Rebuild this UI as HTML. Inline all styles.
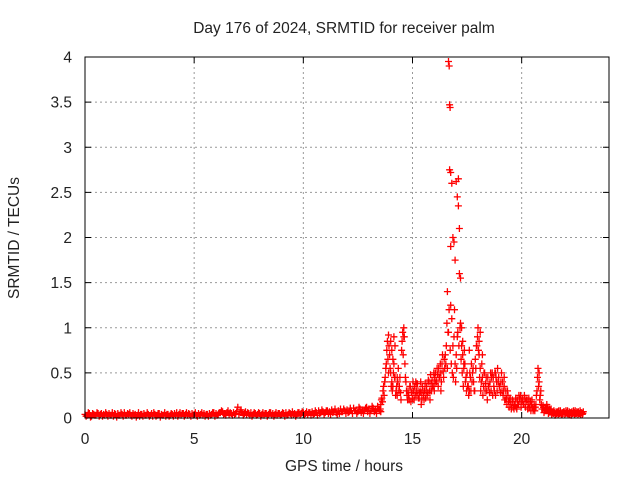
<!DOCTYPE html>
<html><head><meta charset="utf-8"><style>
body{margin:0;background:#fff;}
svg{display:block;font-family:"Liberation Sans",sans-serif;}
</style></head><body>
<svg id="chart" width="640" height="480" viewBox="0 0 640 480" xmlns="http://www.w3.org/2000/svg">
<rect width="640" height="480" fill="#fff"/>
<text x="344" y="33" font-size="15.5" text-anchor="middle" fill="#222">Day 176 of 2024, SRMTID for receiver palm</text>
<text x="344" y="471" font-size="15.5" text-anchor="middle" fill="#222">GPS time / hours</text>
<text transform="translate(19,238) rotate(-90)" font-size="15.5" text-anchor="middle" fill="#222">SRMTID / TECUs</text>
<g id="grid"></g>
<g id="marks"></g>
<rect x="85" y="57" width="524" height="361" fill="none" stroke="#000" stroke-width="1"/>
<g id="ticks"></g>
</svg>
<script>
const xTicks = [0, 5, 10, 15, 20];
const yTicks = [0, 0.5, 1, 1.5, 2, 2.5, 3, 3.5, 4];
const yTickLabels = ["0", "0.5", "1", "1.5", "2", "2.5", "3", "3.5", "4"];
const quietStart = 0, quietStep = 0.1;
const quietValues = [
.04,.03,.05,.02,.04,.03,.05,.04,.02,.03,
.04,.05,.03,.02,.04,.05,.03,.04,.06,.03,
.04,.03,.05,.04,.03,.02,.04,.05,.03,.04,
.03,.02,.04,.03,.05,.04,.03,.02,.04,.03,
.04,.05,.06,.04,.03,.05,.04,.03,.04,.05,
.04,.03,.05,.04,.03,.02,.04,.05,.04,.06,
.05,.04,.06,.07,.05,.06,.04,.05,.06,.05,
.12,.07,.06,.05,.04,.05,.06,.04,.05,.04,
.05,.04,.03,.05,.04,.06,.05,.04,.03,.05,
.04,.05,.06,.04,.05,.07,.05,.04,.06,.05,
.06,.05,.04,.06,.07,.05,.06,.08,.06,.07,
.06,.08,.07,.09,.07,.06,.08,.1,.07,.08,
.09,.07,.08,.11,.08,.07,.1,.09,.08,.12,
.1,.08,.11,.09,.13,.1 ];
const quietStart2 = 0.05;
const quietValues2 = [
.02,.06,.01,.05,.03,.06,.02,.05,.04,.06,
.02,.03,.06,.05,.01,.03,.06,.02,.03,.05,
.06,.02,.03,.01,.06,.04,.02,.03,.06,.02,
.05,.06,.02,.05,.01,.03,.06,.04,.02,.05,
.02,.03,.02,.06,.05,.02,.06,.05,.02,.03,
.06,.02,.03,.06,.05,.04,.02,.03,.06,.02,
.03,.06,.08,.04,.03,.08,.06,.03,.04,.07,
.04,.09,.03,.07,.06,.03,.02,.06,.03,.06,
.02,.06,.05,.02,.06,.03,.02,.06,.05,.03,
.06,.02,.03,.06,.03,.04,.02,.06,.03,.07,
.03,.07,.06,.03,.04,.08,.03,.05,.09,.04,
.08,.05,.04,.06,.1,.04,.05,.07,.1,.05,
.06,.11,.05,.08,.05,.12,.06,.05,.11,.07,
.05,.13,.07,.05,.1,.07 ];
const activeStart = 13.5, activeStep = 0.05;
const activeValues = [
.08,.15,.22,.3,.25,.45,.6,.85,.92,.7,.5,.4,.35,.6,.45,.3,.25,.55,.35,.28,
.75,.95,1.0,.6,.4,.25,.3,.2,.35,.28,.22,.3,.35,.4,.25,.3,.22,.3,.28,.35,
.25,.3,.22,.35,.28,.4,.3,.38,.42,.35,.45,.5,.4,.48,.55,.45,.5,.6,.52,.65,
.7,.8,1.4,3.95,2.75,1.9,1.1,.8,.9,.6,.7,.9,2.65,1.6,1.05,.8,.7,.55,.6,.45,
.5,.35,.3,.45,.6,.5,.4,.3,.55,.8,1.0,.7,.55,.4,.45,.35,.5,.38,.3,.45,
.35,.4,.3,.5,.45,.3,.25,.4,.55,.45,.35,.4,.3,.25,.35,.2,.22,.3,.18,.2,
.15,.12,.18,.1,.14,.12,.2,.15,.22,.25,.18,.2,.15,.22,.18,.2,.15,.12,.18,.15,
.12,.1,.08,.15,.3,.55,.4,.25,.15,.1,.12,.08,.1,.15,.12,.08,.06,.1,.07,.05,
.06,.04,.05,.07,.08,.05,.06,.04,.05,.07,.05,.06,.08,.05,.04,.06,.07,.05,.06,.08,.05,.06,.07,.05,.04,.06,.05 ];
const activeStart2 = 13.525;
const activeValues2 = [
.1,.2,.18,.35,.4,.55,.75,.65,.8,.55,.35,.3,.5,.45,.25,.35,.4,.3,.45,.2,
.85,.7,.9,.45,.3,.2,.25,.35,.18,.3,.4,.2,.25,.3,.38,.22,.28,.4,.2,.3,
.2,.38,.3,.25,.42,.3,.48,.3,.35,.5,.38,.42,.55,.35,.45,.6,.4,.7,.45,.55,
.6,1.05,.95,1.2,.75,.6,.5,.45,1.2,.4,.55,.95,.8,1.0,.65,.5,.35,.75,.4,.3,
.35,.25,.5,.3,.4,.55,.3,.65,.8,.9,.75,.45,.3,.6,.25,.5,.3,.45,.2,.35,
.28,.5,.45,.25,.35,.5,.45,.3,.4,.35,.28,.5,.4,.3,.2,.3,.15,.25,.12,.22,
.1,.2,.12,.15,.22,.1,.15,.25,.18,.12,.22,.15,.25,.12,.2,.1,.22,.15,.08,.2,
.08,.15,.12,.25,.45,.35,.2,.3,.1,.14,.06,.12,.08,.1,.05,.1,.08,.04,.06,.08,
.03,.07,.06,.04,.05,.08,.04,.06,.07,.04,.08,.05,.04,.07,.06,.03,.05,.08,.04,.05,.07,.04,.05,.08,.06,.04,.07 ];
const extraTimes = [16.68,16.7,16.72,16.75,16.8,17.0,17.05,17.1,17.15,16.85,16.9,17.2,16.75,14.0,14.05,14.6,18.1,14.2,20.8,16.95,17.25,14.3,15.2,16.0,17.6,18.8,19.2,13.9,14.1,14.15,16.6,16.65,17.3,17.35,18.05,18.2,18.9,19.0,15.4,15.8,16.3];
const extraValues = [3.9,3.47,3.44,2.72,2.6,2.62,2.45,2.35,2.1,2.0,1.95,1.55,1.25,0.85,0.75,0.9,0.95,0.8,0.5,1.75,1.0,0.45,0.38,0.3,0.75,0.5,0.45,0.5,0.65,0.9,0.55,0.95,0.85,0.6,0.85,0.7,0.55,0.35,0.15,0.2,0.3];

const X0 = 85, X1 = 609, Y0 = 418, Y1 = 57;
const xScale = t => X0 + t / 24 * (X1 - X0);
const yScale = v => Y0 - v / 4 * (Y0 - Y1);
const NS = "http://www.w3.org/2000/svg";
const grid = document.getElementById('grid');
const ticks = document.getElementById('ticks');
const marks = document.getElementById('marks');
function mk(tag, attrs, parent) {
  const e = document.createElementNS(NS, tag);
  for (const k in attrs) e.setAttribute(k, attrs[k]);
  parent.appendChild(e);
  return e;
}
xTicks.forEach(t => {
  const x = xScale(t);
  if (t > 0) {
    const g = mk('line', {x1: x, x2: x, y1: Y1, y2: Y0, stroke: '#999', 'stroke-dasharray': '2,3'}, grid);
    
    
  }
  const tk = mk('path', {d: `M${x},${Y0}v-6M${x},${Y1}v6`, stroke: '#000'}, ticks);
  
  
  const lb = mk('text', {x: x, y: Y0 + 26, 'font-size': 15.5, 'text-anchor': 'middle', fill: '#222'}, ticks);
  lb.textContent = String(t);
  
  
});
yTicks.forEach((v, i) => {
  const y = yScale(v);
  if (v > 0 && v < 4) {
    const g = mk('line', {x1: X0, x2: X1, y1: y, y2: y, stroke: '#999', 'stroke-dasharray': '2,3'}, grid);
    
    
  }
  const tk = mk('path', {d: `M${X0},${y}h6M${X1},${y}h-6`, stroke: '#000'}, ticks);
  
  
  const lb = mk('text', {x: 72, y: y + 5.5, 'font-size': 15.5, 'text-anchor': 'end', fill: '#222'}, ticks);
  lb.textContent = yTickLabels[i];
  
  
});
let d = '';
function plus(t, v) {
  const x = xScale(t), y = yScale(v);
  d += `M${(x - 3.5).toFixed(1)},${y.toFixed(1)}h7M${x.toFixed(1)},${(y - 3.5).toFixed(1)}v7`;
}
quietValues.forEach((v, i) => plus(quietStart + i * quietStep, v));
quietValues2.forEach((v, i) => plus(quietStart2 + i * quietStep, v));
activeValues.forEach((v, i) => plus(activeStart + i * activeStep, v));
activeValues2.forEach((v, i) => plus(activeStart2 + i * activeStep, v));
extraTimes.forEach((t, i) => plus(t, extraValues[i]));
const p = mk('path', {d: d, stroke: '#f00', 'stroke-width': 1.3, fill: 'none'}, marks);


</script>
</body></html>
